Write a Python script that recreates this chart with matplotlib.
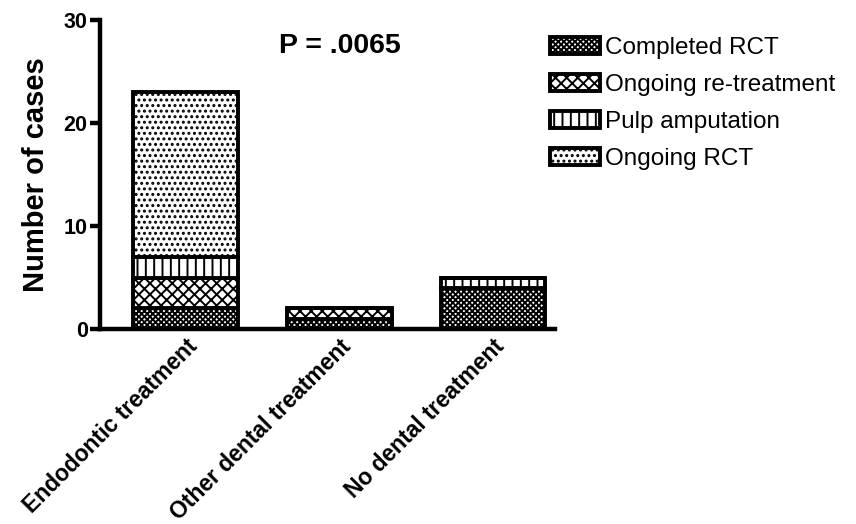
import numpy as np
import matplotlib
matplotlib.use("Agg")
import matplotlib.pyplot as plt

plt.rcParams['font.family'] = ['Liberation Sans', 'DejaVu Sans']
plt.rcParams['hatch.linewidth'] = 1.4

# Data
groups = ["Endodontic treatment", "Other dental treatment", "No dental treatment"]
series = ["Completed RCT", "Ongoing re-treatment", "Pulp amputation", "Ongoing RCT"]
completed_rct = [2, 1, 4]
ongoing_retreatment = [3, 1, 0]
pulp_amputation = [2, 0, 1]
ongoing_rct = [16, 0, 0]
hatches = ["xxxxxx", "XXX", "||", "..."]

fig = plt.figure(figsize=(8.56, 5.24), dpi=100)
ax = fig.add_axes([0.117, 0.372, 0.531, 0.590])

x = np.arange(len(groups))
bottom = np.zeros(len(groups))
handles = []
for vals, name, h in zip([completed_rct, ongoing_retreatment, pulp_amputation, ongoing_rct],
                         series, hatches):
    vals = np.array(vals, dtype=float)
    b = ax.bar(x, vals, width=0.68, bottom=bottom, color="white",
               edgecolor="black", linewidth=2.8, hatch=h, label=name)
    handles.append(b)
    bottom += vals

ax.set_xlim(-0.555, 2.4)
ax.set_ylim(0, 30)
ax.set_yticks([0, 10, 20, 30])
ax.set_xticks(x)
ax.set_xticklabels(groups, rotation=45, ha="right", rotation_mode="anchor",
                   fontsize=16.5, fontweight="bold")
for lab in ax.get_yticklabels():
    lab.set_fontweight("bold")
    lab.set_fontsize(15.5)
ax.set_ylabel("Number of cases", fontsize=21, fontweight="bold", labelpad=10)

for s in ["top", "right"]:
    ax.spines[s].set_visible(False)
for s in ["left", "bottom"]:
    ax.spines[s].set_linewidth(3.2)
ax.tick_params(axis="y", width=3.2, length=7, direction="out", pad=2)
ax.tick_params(axis="x", length=0, pad=4)

ax.text(0.527, 0.915, "P = .0065", transform=ax.transAxes, fontsize=20.5,
        fontweight="bold", ha="center", va="center")

fig.legend(handles=handles, loc="upper left", bbox_to_anchor=(0.643, 0.93),
           frameon=False, fontsize=17.5, handlelength=2.05, handleheight=0.7,
           handletextpad=0.2, labelspacing=0.62, borderpad=0, borderaxespad=0)

fig.savefig("out.png", dpi=100)
